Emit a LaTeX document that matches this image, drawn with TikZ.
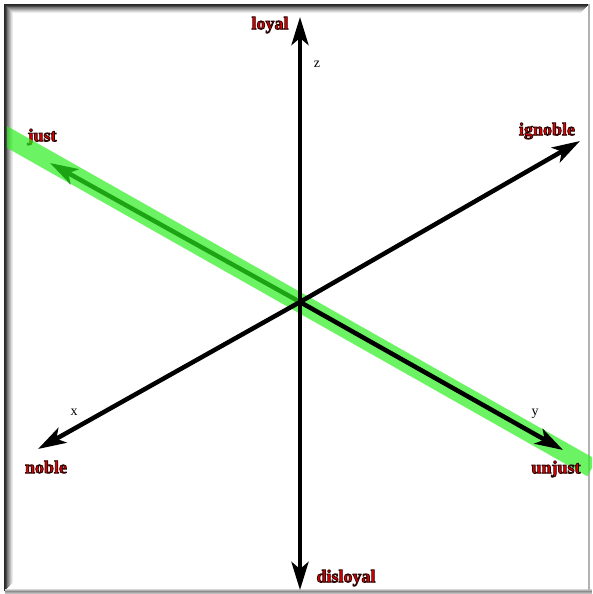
\documentclass[tikz,border=0pt]{standalone}
\usepackage{fontspec}
\setmainfont{Liberation Serif}
\usetikzlibrary{arrows.meta}
\definecolor{lblred}{RGB}{225,0,0}
\definecolor{bandgreen}{RGB}{43,239,29}
\tikzset{
  axis/.style={line width=4.5pt, draw=black, -{Stealth[length=28pt,width=17pt,inset=7pt]}},
  lbl/.style={inner sep=0pt, font=\fontsize{18}{18}\selectfont\bfseries},
  small/.style={inner sep=0pt, font=\fontsize{14}{14}\selectfont},
}
\newcommand{\lab}[1]{\textcolor{lblred}{\special{pdf:literal direct 2 Tr 0.8 w 0.15 0.02 0.02 RG}#1\special{pdf:literal direct 0 Tr}}}
\begin{document}
\begin{tikzpicture}[x=1pt,y=-1pt]
\useasboundingbox (0,0) rectangle (592,594);
\fill[white] (0,0) rectangle (592,594);
% frame
\foreach \i/\c in {0/black!85,1/black!80,2/black!70,3/black!55,4/black!45,5/black!35,6/black!25,7/black!15,8/black!8}{
  \draw[\c, line width=1pt] (4.5+\i,591-\i) -- (4.5+\i,4.5+\i) -- (589-\i,4.5+\i);
}
\foreach \i/\c in {0/black!25,1/black!35,2/black!45,3/black!30,4/black!15}{
  \draw[\c, line width=1pt] (4.5,593.5-\i) -- (592,593.5-\i);
}
\draw[black!30, line width=1.5pt] (589,4) -- (589,591);
\coordinate (O) at (300,302);
\coordinate (ztop) at (300,17);
\coordinate (zbot) at (300,590);
\coordinate (xneg) at (38,449);
\coordinate (xpos) at (580,141);
\coordinate (jtip) at (50,163);
\coordinate (utip) at (563,450);
\coordinate (gA) at (0,133);
\coordinate (gB) at (592,468);
% just label and arrow under the band
\node[lbl] (just) at (42,137) {\lab{just}};
\draw[axis] (O) -- (jtip);
% green band
\begin{scope}
\clip (7,7) rectangle (592,588);
\draw[bandgreen, line width=19pt, opacity=0.69] (gA) -- (gB);
\end{scope}
% axes
\draw[axis] (O) -- (ztop);
\draw[axis] (O) -- (zbot);
\draw[axis] (O) -- (xneg);
\draw[axis] (O) -- (xpos);
\draw[axis] (O) -- (utip);
% labels
\node[lbl] (loyal) at (270,25) {\lab{loyal}};
\node[lbl] (disloyal) at (346,578) {\lab{disloyal}};
\node[lbl] (ignoble) at (547,131) {\lab{ignoble}};
\node[lbl] (noble) at (46,467) {\lab{noble}};
\node[lbl] (unjust) at (556,469) {\lab{unjust}};
\node[small] (z) at (317,64) {z};
\node[small] (x) at (74,412) {x};
\node[small] (y) at (535,414) {y};
\end{tikzpicture}
\end{document}
